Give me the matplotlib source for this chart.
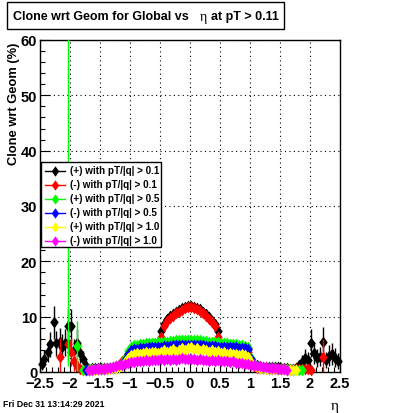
import numpy as np
import matplotlib
matplotlib.use("Agg")
import matplotlib.pyplot as plt
from matplotlib.path import Path
from matplotlib.patches import Rectangle
from matplotlib.lines import Line2D

N = np.nan

# ---- data: bin centres in eta (100 bins of 0.05 from -2.5 to 2.5) ----
eta = np.linspace(-2.475, 2.475, 100)

black = [1.5, 2.4, 3.6, 5.0, 9.0, 5.2, 5.5, 4.6, 5.3, 8.3,
         8.3, 4.0, 5.3, 3.4, 2.3, 1.1, 0.6, 0.8, 0.8, 0.8,
         0.8, 0.8, 0.8, 0.8, 0.9, 1.0, 1.3, 1.8, 2.4, 3.2,
         4.2, 4.5, 4.6, 4.7, 4.8, 4.9, 5.0, 5.0, 5.1, 5.1,
         7.4, 8.6, 9.5, 10.1, 10.5, 10.9, 11.2, 11.5, 11.8, 12.0,
         12.0, 11.8, 11.6, 11.3, 10.9, 10.4, 9.9, 9.3, 8.6, 7.5,
         5.0, 4.9, 4.9, 4.8, 4.7, 4.6, 4.5, 4.4, 4.3, 4.1,
         2.4, 1.5, 1.2, 1.0, 0.9, 0.9, 0.9, 0.9, 0.9, 0.9,
         0.8, 0.8, 0.7, 0.6, 0.6, 0.7, 1.2, 1.8, 2.6, 2.2,
         5.2, 3.5, 2.5, 2.8, 5.5, 2.2, 2.9, 3.3, 2.6, 2.0]
black_err = [1.2, 1.5, 1.8, 2.2, 3.0, 2.3, 2.5, 2.2, 2.4, 3.0,
             3.0, 2.0, 2.5, 1.8, 1.5, 1.0, 0.6, 0.4, 0.3, 0.3] + [0.3] * 60 + \
            [0.3, 0.3, 0.3, 0.3, 0.3, 0.5, 0.8, 1.2, 1.5, 1.4,
             2.5, 2.0, 1.6, 1.8, 2.6, 1.5, 1.9, 2.0, 1.7, 1.4]

red = [N, N, N, N, N, N, 2.7, N, N, 5.0,
       3.6, 2.0, 1.0, 0.5, 0.4, 0.4, 0.4, 0.5, 0.5, 0.5,
       0.5, 0.6, 0.6, 0.7, 0.8, 0.9, 1.2, 2.0, 2.5, 3.0,
       3.8, 4.0, 4.1, 4.2, 4.2, 4.3, 4.3, 4.4, 4.4, 4.5,
       6.3, 8.3, 9.2, 9.8, 10.2, 10.6, 10.9, 11.2, 11.5, 11.7,
       11.7, 11.5, 11.3, 11.0, 10.6, 10.1, 9.6, 9.0, 8.3, 6.3,
       4.4, 4.4, 4.3, 4.3, 4.2, 4.2, 4.1, 4.0, 3.9, 3.7,
       1.5, 1.0, 0.8, 0.7, 0.7, 0.6, 0.6, 0.6, 0.6, 0.6,
       0.5, 0.5, 0.5, 0.5, 0.5, 0.5, 0.5, 0.5, 0.5, 0.5,
       0.4, N, N, N, 2.7, N, N, N, N, N]
red_err = [0, 0, 0, 0, 0, 0, 3.5, 0, 0, 3.0,
           2.5, 1.8, 0.8, 0.3, 0.3, 0.3, 0.3, 0.3, 0.3, 0.3] + [0.3] * 70 + \
          [0.3, 0, 0, 0, 3.3, 0, 0, 0, 0, 0]

green = [N, N, N, N, N, N, N, N, N, 100.0,
         N, N, 4.7, N, 0.4, 0.4, 0.5, 0.5, 0.5, 0.6,
         0.6, 0.6, 0.7, 0.7, 0.8, 0.9, 1.1, 1.6, 2.6, 3.8,
         4.6, 4.8, 4.9, 5.0, 5.1, 5.2, 5.2, 5.3, 5.3, 5.4,
         5.4, 5.5, 5.5, 5.6, 5.6, 5.7, 5.7, 5.8, 5.8, 5.8,
         5.8, 5.8, 5.7, 5.7, 5.6, 5.6, 5.5, 5.5, 5.4, 5.4,
         5.3, 5.3, 5.2, 5.1, 5.1, 5.0, 4.9, 4.8, 4.7, 4.5,
         2.6, 1.5, 1.1, 0.9, 0.8, 0.8, 0.7, 0.7, 0.7, 0.6,
         0.6, 0.5, 0.5, 0.5, 0.4, 0.4, 0.4, 0.3, N, N,
         N, N, N, N, N, N, N, N, N, N]
green_err = [0] * 9 + [99.0, 0, 0, 4.5] + [0.3] * 87

blue = [N] * 10 + \
       [N, N, N, N, N, 0.3, 0.4, 0.4, 0.5, 0.5,
        0.5, 0.6, 0.6, 0.7, 0.7, 0.8, 1.0, 1.4, 2.2, 3.2,
        3.9, 4.1, 4.2, 4.3, 4.4, 4.4, 4.5, 4.5, 4.6, 4.6,
        4.6, 4.7, 4.7, 4.7, 4.8, 4.8, 4.8, 4.9, 4.9, 4.9,
        4.9, 4.9, 4.8, 4.8, 4.8, 4.7, 4.7, 4.7, 4.7, 4.6,
        4.6, 4.6, 4.6, 4.5, 4.5, 4.5, 4.4, 4.4, 4.3, 4.1,
        2.4, 1.3, 1.0, 0.8, 0.7, 0.7, 0.6, 0.6, 0.6, 0.5,
        0.5, 0.5, 0.4, 0.4, 0.3, N, N, N, N, N] + [N] * 10

yellow = [N] * 10 + \
         [N, N, N, N, N, N, 0.3, 0.4, 0.4, 0.5,
          0.5, 0.5, 0.6, 0.6, 0.7, 0.8, 0.9, 1.2, 1.8, 2.5,
          3.0, 3.2, 3.4, 3.3, 3.5, 3.6, 3.4, 3.6, 3.7, 3.5,
          3.7, 3.9, 3.6, 3.8, 4.1, 3.7, 4.0, 4.4, 3.9, 4.3,
          4.5, 4.0, 4.3, 3.8, 4.1, 3.9, 3.7, 3.9, 3.6, 3.8,
          3.5, 3.6, 3.3, 3.4, 3.2, 3.3, 3.1, 3.2, 3.0, 2.8,
          1.8, 1.2, 0.9, 0.8, 0.7, 0.6, 0.6, 0.6, 0.5, 0.5,
          0.5, 0.5, 0.4, 0.4, 0.4, 0.3, N, N, N, N] + [N] * 10

magenta = [N] * 10 + \
          [N, N, N, N, N, N, 0.3, 0.4, 0.5, 0.5,
           0.6, 0.6, 0.7, 0.8, 0.9, 1.0, 1.2, 1.3, 1.5, 1.6,
           1.8, 1.8, 1.9, 2.0, 1.9, 2.1, 2.0, 2.2, 2.1, 2.2,
           2.3, 2.1, 2.3, 2.2, 2.4, 2.2, 2.3, 2.5, 2.3, 2.4,
           2.3, 2.4, 2.2, 2.3, 2.1, 2.2, 2.0, 2.1, 2.0, 2.1,
           2.0, 1.9, 2.0, 1.8, 1.9, 1.7, 1.7, 1.6, 1.5, 1.4,
           1.3, 1.2, 1.1, 1.0, 0.9, 0.9, 0.8, 0.8, 0.7, 0.6,
           0.6, 0.5, 0.4, N, N, N, N, N, N, N] + [N] * 10

series = [
    ("(+) with pT/|q| > 0.1", black, black_err, "#000000"),
    ("(-) with pT/|q| > 0.1", red, red_err, "#ff0000"),
    ("(+) with pT/|q| > 0.5", green, green_err, "#00ff00"),
    ("(-) with pT/|q| > 0.5", blue, [0.3] * 100, "#0000ff"),
    ("(+) with pT/|q| > 1.0", yellow, [0.3] * 100, "#ffff00"),
    ("(-) with pT/|q| > 1.0", magenta, [0.3] * 100, "#ff00ff"),
]
title_a = "Clone wrt Geom for Global vs"
title_eta = "\u03b7"
title_b = "at pT > 0.11"
ylabel = "Clone wrt Geom (%)"
xlabel = "\u03b7"
datestr = "Fri Dec 31 13:14:29 2021"
xlim = (-2.5, 2.5)
ylim = (0, 60)

# ---- figure ----
W, H = 400, 414
plt.rcParams['font.family'] = ['Liberation Sans', 'DejaVu Sans']
fig = plt.figure(figsize=(W / 100, H / 100), dpi=100)
fig.patch.set_facecolor('white')


def fx(x):
    return x / W


def fy(y):
    return 1 - y / H


ax = fig.add_axes([fx(40), fy(373), fx(340) - fx(40), fy(41) - fy(373)])
ax.set_xlim(*xlim)
ax.set_ylim(*ylim)

diamond = Path([(0, 1), (0.72, 0), (0, -1), (-0.72, 0), (0, 1)],
               [Path.MOVETO, Path.LINETO, Path.LINETO, Path.LINETO, Path.CLOSEPOLY])

for i, (lab, vals, errs, col) in enumerate(series):
    v = np.array(vals, dtype=float)
    e = np.array(errs, dtype=float)
    ax.errorbar(eta, v, yerr=e, fmt='none', ecolor=col, elinewidth=1.0,
                capsize=0, zorder=3 + i)
    vm = np.where(v <= ylim[1], v, np.nan)
    ln, = ax.plot(eta, vm, linestyle='none', marker=diamond, ms=8.5,
                  color=col, mec=col, mew=0, zorder=3 + i)
    ln.set_clip_on(False)

ax.grid(True, which='major', color='black', linestyle=(0, (1, 3)), linewidth=0.8)
ax.set_axisbelow(True)
ax.set_xticks(np.arange(-2.5, 2.51, 0.5))
ax.set_xticks(np.arange(-2.5, 2.51, 0.1), minor=True)
ax.set_yticks(np.arange(0, 61, 10))
ax.set_yticks(np.arange(0, 61, 2), minor=True)
ax.set_xticklabels(["\u22122.5", "\u22122", "\u22121.5", "\u22121", "\u22120.5",
                    "0", "0.5", "1", "1.5", "2", "2.5"])
ax.tick_params(which='both', direction='in', top=False, right=False,
               labelsize=10.5, width=0.8)
ax.tick_params(which='major', length=7)
ax.tick_params(which='minor', length=3.5)
ax.tick_params(axis='x', pad=3)
ax.tick_params(axis='y', pad=2)
for lbl in ax.get_xticklabels() + ax.get_yticklabels():
    lbl.set_fontweight('bold')
for s in ax.spines.values():
    s.set_linewidth(1.0)
    s.set_zorder(2.5)

# legend (drawn as ROOT-style box)
leg = Rectangle((fx(41), fy(248)), fx(161) - fx(41), fy(163) - fy(248),
                transform=fig.transFigure, facecolor='white', edgecolor='black',
                linewidth=1.0, zorder=20)
fig.add_artist(leg)
for i, (lab, vals, errs, col) in enumerate(series):
    yy = fy(171.5 + 14 * i)
    fig.add_artist(Line2D([fx(45), fx(65)], [yy, yy], color=col, linewidth=1.0,
                          transform=fig.transFigure, zorder=21))
    fig.add_artist(Line2D([fx(55)], [yy], marker=diamond, ms=7.5, color=col,
                          mew=0, linestyle='none', transform=fig.transFigure, zorder=22))
    fig.text(fx(70), yy, lab, fontsize=7.1, fontweight='bold', va='center',
             ha='left', zorder=23)

# title box
fig.add_artist(Rectangle((fx(7), fy(30)), fx(284) - fx(7), fy(3) - fy(30),
                         transform=fig.transFigure, facecolor='white',
                         edgecolor='black', linewidth=1.0, zorder=20))
ty = fy(17)
renderer = fig.canvas.get_renderer()
t1 = fig.text(fx(13), ty, title_a, fontsize=9.0, fontweight='bold', va='center',
              ha='left', zorder=21)
e1 = t1.get_window_extent(renderer)
t2 = fig.text((e1.x1 + 11) / W, ty, title_eta, fontsize=10, family='Liberation Serif',
              va='center', ha='left', zorder=21)
e2 = t2.get_window_extent(renderer)
t3 = fig.text((e2.x1 + 4) / W, ty, title_b, fontsize=9.0, fontweight='bold',
              va='center', ha='left', zorder=21)

# axis labels and date
fig.text(fx(14), fy(43), ylabel, rotation=90, fontsize=9.3, fontweight='bold',
         ha='center', va='top')
fig.text(fx(335), fy(407), xlabel, fontsize=11, family='Liberation Serif',
         ha='center', va='center')
fig.text(fx(3), fy(405), datestr, fontsize=6.3, fontweight='bold',
         ha='left', va='center')

fig.savefig("out.png", dpi=100, facecolor='white')
